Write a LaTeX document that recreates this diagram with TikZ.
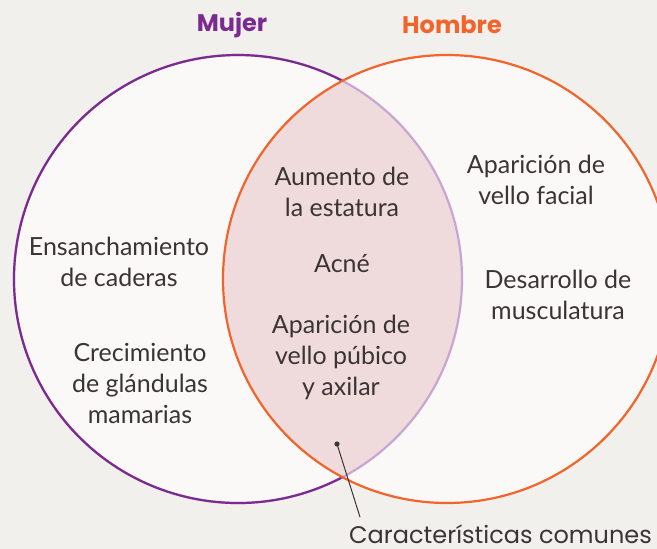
\documentclass[tikz,border=0pt]{standalone}
\usepackage{fontspec}
\setmainfont{Lato}
\newfontfamily\titlefont{Poppins}
\usetikzlibrary{positioning}

\definecolor{fondo}{HTML}{F1F0ED}
\definecolor{relleno}{HTML}{FAF9F8}
\definecolor{morado}{HTML}{7B2A8F}
\definecolor{lavanda}{HTML}{C9A6D2}
\definecolor{naranja}{HTML}{F2642A}
\definecolor{rosa}{HTML}{F0DBDC}
\definecolor{texto}{HTML}{3A3434}

\tikzset{
    rasgo/.style={align=center, text=texto, font=\fontsize{25}{31}\selectfont, inner sep=0pt},
    titulo/.style={font=\titlefont\bfseries\fontsize{24}{28}\selectfont, inner sep=0pt},
    borde/.style={line width=2.2pt},
}

\begin{document}
\begin{tikzpicture}[x=1pt,y=-1pt]
    \useasboundingbox (0,0) rectangle (657,549);
    \clip (0,0) rectangle (657,549);
    \fill[fondo] (0,0) rectangle (657,549);

    \coordinate (cm) at (238,279);
    \coordinate (ch) at (447,279);

    % circulos
    \fill[relleno] (cm) circle[radius=224];
    \fill[relleno] (ch) circle[radius=224];

    % zona comun
    \begin{scope}[shift={(-2,-9)}]
        \clip (cm) circle[radius=224];
        \fill[rosa] (ch) circle[radius=224];
    \end{scope}

    \draw[borde, lavanda] (cm) circle[radius=224];
    \draw[borde, morado] (cm) ++(62.2:224) arc[start angle=62.2, end angle=297.8, radius=224];
    \draw[borde, naranja] (ch) circle[radius=224];

    \node[titulo, text=morado] (mujer) at (232,25) {Mujer};
    \node[titulo, text=naranja] (hombre) at (452,25) {Hombre};

    \node[rasgo] (caderas) at (119,262) {Ensanchamiento\\de caderas};
    \node[rasgo] (mamas) at (140,383) {Crecimiento\\de glándulas\\mamarias};

    \node[rasgo] (estatura) at (342,192) {Aumento de\\la estatura};
    \node[rasgo] (acne) at (342,264) {Acné};
    \node[rasgo] (pubico) at (341,357) {Aparición de\\vello púbico\\y axilar};

    \node[rasgo] (facial) at (536,180) {Aparición de\\vello facial};
    \node[rasgo] (musculo) at (558,295) {Desarrollo de\\musculatura};

    \node[rasgo, anchor=base west, text depth=0pt, font=\titlefont\fontsize{24}{28}\selectfont] (comunes) at (349,543) {Características comunes};
    \coordinate (punto) at (337,444);
    \fill[texto] (punto) circle[radius=2.6];
    \draw[texto, line width=1pt] (punto) -- ([xshift=11pt,yshift=7pt]comunes.north west);
\end{tikzpicture}
\end{document}
